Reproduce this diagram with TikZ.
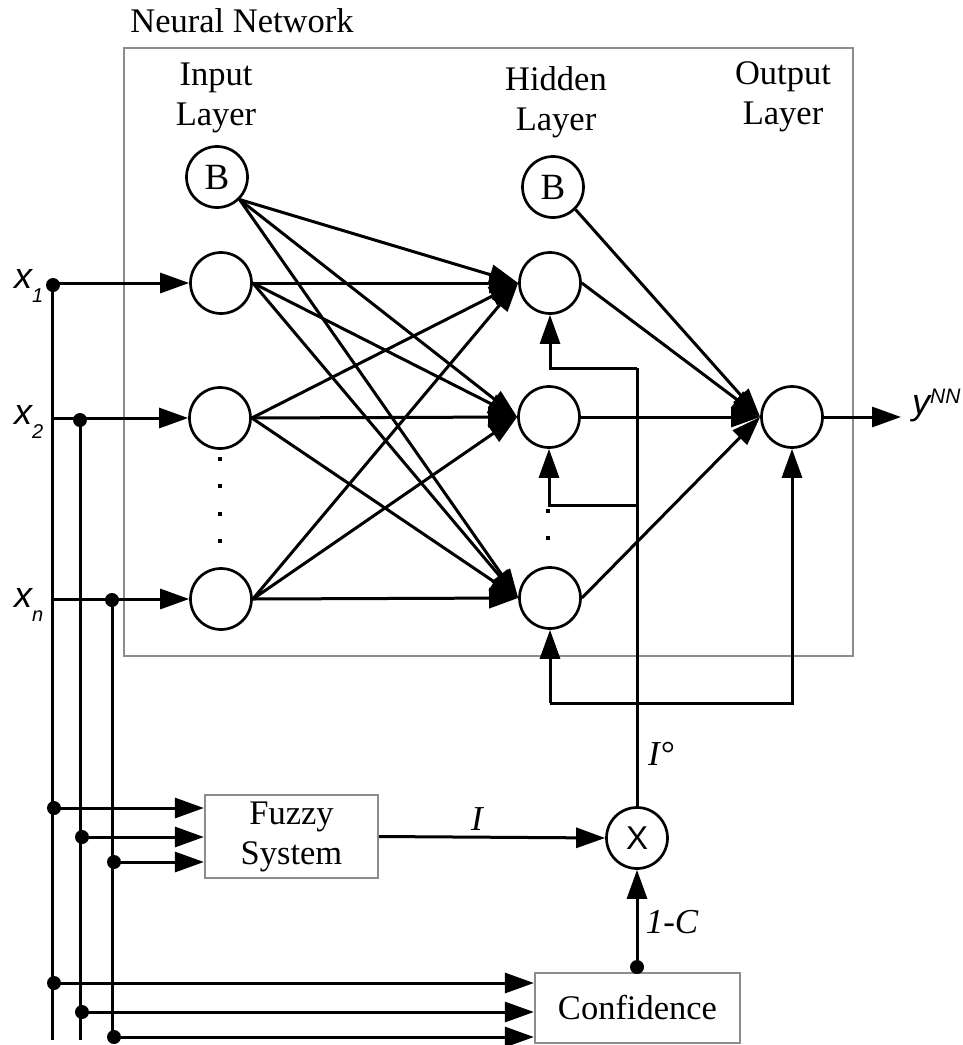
\documentclass[tikz,border=0pt]{standalone}
\usepackage{fontspec}
\setmainfont{Liberation Serif}
\setsansfont{Liberation Sans}
\usetikzlibrary{arrows.meta}
\definecolor{boxgray}{RGB}{140,140,140}
\begin{document}
\begin{tikzpicture}[x=1pt,y=-1pt,
  wire/.style={line width=3pt},
  arr/.style={wire,-{Triangle[length=29pt,width=20pt]}},
  neuron/.style={circle,draw,line width=2.7pt,minimum size=61pt,inner sep=0pt,font=\fontsize{37}{40}\selectfont},
  gbox/.style={draw=boxgray,line width=2.2pt,inner sep=0pt,font=\fontsize{34.5}{40}\selectfont,align=center},
  lbl/.style={font=\fontsize{34.5}{39.5}\selectfont,align=center,inner sep=0pt},
  ilbl/.style={font=\fontsize{35}{40}\selectfont\itshape,inner sep=0pt},
  slbl/.style={font=\fontsize{36}{40}\selectfont\sffamily\itshape,inner sep=0pt,anchor=base west},
  jdot/.style={circle,fill,inner sep=0pt,minimum size=14pt},
  sdot/.style={fill,inner sep=0pt,minimum size=3.5pt}
]
\useasboundingbox (0,0) rectangle (962,1045);

% neural network frame
\node[draw=boxgray,line width=2.2pt,minimum width=729pt,minimum height=608pt,inner sep=0pt] (nn) at (488.5,352) {};
\node[lbl,anchor=base] (nnl) at (242,32) {Neural Network};
\node[lbl,anchor=base] (inl) at (216,125) {Input\\Layer};
\node[lbl,anchor=base] (hil) at (556,130) {Hidden\\Layer};
\node[lbl,anchor=base] (oul) at (783,124) {Output\\Layer};

% neurons
\node[neuron] (ib) at (217,177) {B};
\node[neuron] (i1) at (221,283) {};
\node[neuron] (i2) at (220,418) {};
\node[neuron] (in) at (221,599) {};
\node[neuron] (hb) at (553,187) {B};
\node[neuron] (h1) at (550,283) {};
\node[neuron] (h2) at (549,417) {};
\node[neuron] (hn) at (550,598) {};
\node[neuron] (o) at (792,417) {};
\node[neuron,font=\fontsize{33}{36}\selectfont\sffamily] (mult) at (637,838) {X};

% ellipsis dots
\node[sdot] (d1) at (220,459) {};
\node[sdot] (d2) at (220,486) {};
\node[sdot] (d3) at (220,514) {};
\node[sdot] (d4) at (220,541) {};
\node[sdot] (d5) at (548,511) {};
\node[sdot] (d6) at (548,538) {};

% blocks
\node[gbox,minimum width=173pt,minimum height=83pt] (fz) at (291.5,836.5) {Fuzzy\\System};
\node[gbox,minimum width=205pt,minimum height=70pt] (cf) at (637.5,1008) {Confidence};

% input to hidden connections
\foreach \s in {ib.south east,i1.east,i2.east,in.east}
  \foreach \t in {h1,h2,hn}
    \draw[arr] (\s) -- (\t.west);
% hidden to output
\foreach \s in {hb.south east,h1.east,h2.east,hn.east}
  \draw[arr] (\s) -- (o.west);

% output
\coordinate (yout) at (901,417);
\draw[arr] (o.east) -- (yout);
\node[slbl] (ylab) at (912,414) {y\raisebox{11pt}{\fontsize{21}{21}\selectfont NN}};

% input labels
\node[slbl] (x1l) at (14,288) {x\raisebox{-14pt}{\fontsize{20}{20}\selectfont 1}};
\node[slbl] (x2l) at (14,424) {x\raisebox{-14pt}{\fontsize{20}{20}\selectfont 2}};
\node[slbl] (xnl) at (14,607) {x\raisebox{-14pt}{\fontsize{20}{20}\selectfont n}};

% input bus
\coordinate (v1t) at (52,283);
\coordinate (v1b) at (52,1040);
\coordinate (r2) at (52,418);
\coordinate (rn) at (52,599);
\node[jdot] (j1) at (53,285) {};
\node[jdot] (j2) at (80,420) {};
\node[jdot] (j3) at (112,600) {};
\coordinate (v2b) at (80,1040);
\coordinate (v3b) at (112,1040);
\draw[wire] (v1t) -- (v1b);
\draw[wire] (j2.center) -- (v2b);
\draw[wire] (j3.center) -- (v3b);
\draw[arr] (v1t) -- (i1.west);
\draw[arr] (r2) -- (i2.west);
\draw[arr] (rn) -- (in.west);

% to fuzzy system
\node[jdot] (f1) at (54,808) {};
\node[jdot] (f2) at (82,837) {};
\node[jdot] (f3) at (114,862) {};
\draw[arr] (f1.center) -- (f1.center -| fz.west);
\draw[arr] (f2.center) -- (f2.center -| fz.west);
\draw[arr] (f3.center) -- (f3.center -| fz.west);

% to confidence
\node[jdot] (c1) at (54,983) {};
\node[jdot] (c2) at (82,1012) {};
\node[jdot] (c3) at (114,1037) {};
\draw[arr] (c1.center) -- (c1.center -| cf.west);
\draw[arr] (c2.center) -- (c2.center -| cf.west);
\draw[arr] (c3.center) -- (c3.center -| cf.west);

% fuzzy to multiplier
\draw[arr] (fz.east) -- (mult.west);
\node[ilbl] (il) at (477,819) {I};

% confidence to multiplier
\node[jdot] (cd) at (637,967) {};
\draw[arr] (cd.center) -- (mult.south);
\node[ilbl] (cl) at (672,922) {1-C};

% I0 to hidden neurons
\coordinate (ia) at (637,368);
\coordinate (ib2) at (637,505);
\draw[wire] (mult.north) -- (ia);
\draw[arr] (ia) -| (h1.south);
\draw[arr] (ib2) -| (h2.south);
\node[ilbl] (iol) at (661,754) {I°};

% feedback loop bottom
\coordinate (fl) at (550,703);
\coordinate (fr) at (792,703);
\draw[arr] (fl) -- (hn.south);
\draw[arr] (fl) -- (fr) -- (o.south);
\end{tikzpicture}
\end{document}
